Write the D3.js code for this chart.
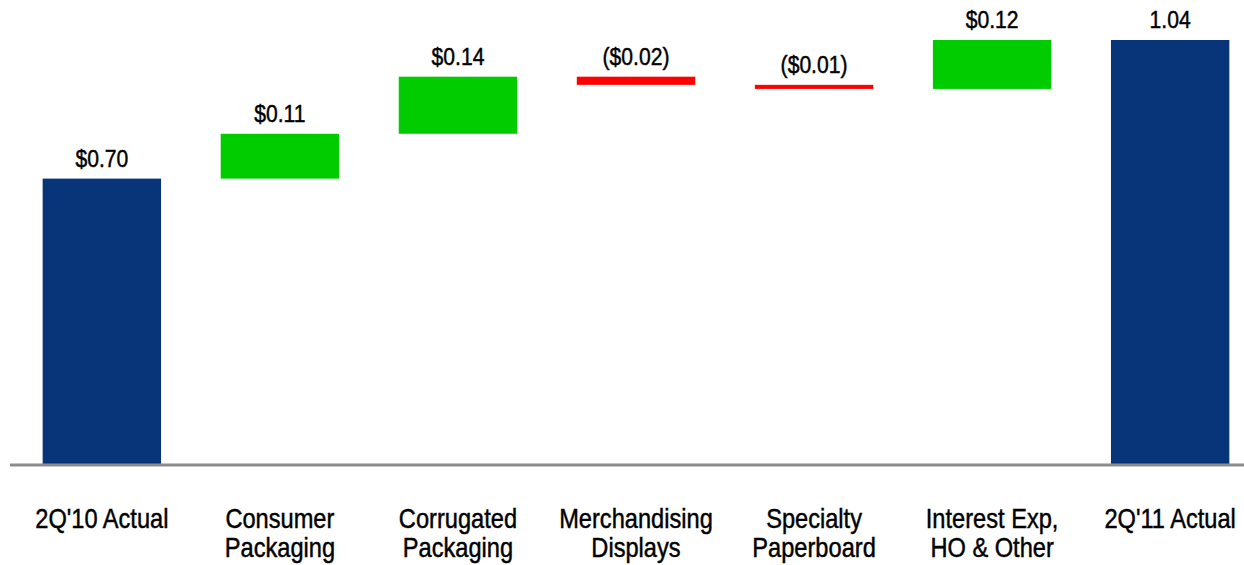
<!DOCTYPE html>
<html>
<head>
<meta charset="utf-8">
<script src="https://cdn.jsdelivr.net/npm/d3@7"></script>
<style>
  html, body { margin: 0; padding: 0; background: #fff; }
  svg { display: block; }
  text { font-family: "Liberation Sans", Arial, sans-serif; fill: #000; stroke: #000; stroke-width: 0.45px; }
</style>
</head>
<body>
<svg id="chart" width="1244" height="565"></svg>
<script>
// EPS bridge: 2Q'10 actual to 2Q'11 actual
const categories = [
  ["2Q'10 Actual"],
  ["Consumer", "Packaging"],
  ["Corrugated", "Packaging"],
  ["Merchandising", "Displays"],
  ["Specialty", "Paperboard"],
  ["Interest Exp,", "HO & Other"],
  ["2Q'11 Actual"]
];
const kinds  = ["total", "delta", "delta", "delta", "delta", "delta", "total"];
const values = [0.70, 0.11, 0.14, -0.02, -0.01, 0.12, 1.04];

const colors = { total: "#08357a", up: "#00cc00", down: "#ff0000" };

const svg = d3.select("#chart");
const baseY = 464;

// running totals give each step's start and end level
let running = 0;
const steps = values.map((v, i) => {
  let start, end;
  if (kinds[i] === "total") { start = 0; end = v; running = v; }
  else { start = running; end = running + v; running = end; }
  return { i, v, kind: kinds[i], start, end, cat: categories[i] };
});

const x = d3.scaleBand()
  .domain(d3.range(categories.length))
  .range([-17, 1289])
  .padding(0.335);

const y = d3.scaleLinear()
  .domain([0, 1.04])
  .range([baseY, 40]);

const cx = d => x(d.i) + x.bandwidth() / 2;
const fillOf = d => d.kind === "total" ? colors.total : (d.v >= 0 ? colors.up : colors.down);

svg.append("g").selectAll("rect")
  .data(steps)
  .join("rect")
  .attr("x", d => x(d.i))
  .attr("width", x.bandwidth())
  .attr("y", d => y(Math.max(d.start, d.end)))
  .attr("height", d => Math.abs(y(d.start) - y(d.end)))
  .attr("fill", fillOf);

// baseline
svg.append("line")
  .attr("x1", 10).attr("x2", 1244)
  .attr("y1", baseY + 1).attr("y2", baseY + 1)
  .attr("stroke", "#8c8c8c")
  .attr("stroke-width", 3);

// value labels (condensed type)
const money = d3.format("$.2f");
const labelOf = d => {
  if (d.i === steps.length - 1) return d3.format(".2f")(d.v);
  if (d.v < 0) return "(" + money(-d.v) + ")";
  return money(d.v);
};

svg.append("g").selectAll("text")
  .data(steps)
  .join("text")
  .attr("transform", d => `translate(${cx(d)},${y(Math.max(d.start, d.end)) - 12}) scale(0.88,1)`)
  .attr("text-anchor", "middle")
  .style("font-size", "24px")
  .text(labelOf);

// category labels
const cat = svg.append("g").selectAll("text")
  .data(steps)
  .join("text")
  .attr("transform", d => `translate(${cx(d)},528) scale(0.875,1)`)
  .attr("text-anchor", "middle")
  .style("font-size", "27px");

cat.selectAll("tspan")
  .data(d => d.cat)
  .join("tspan")
  .attr("x", 0)
  .attr("dy", (t, j) => j === 0 ? 0 : 29)
  .text(t => t);
</script>
</body>
</html>
